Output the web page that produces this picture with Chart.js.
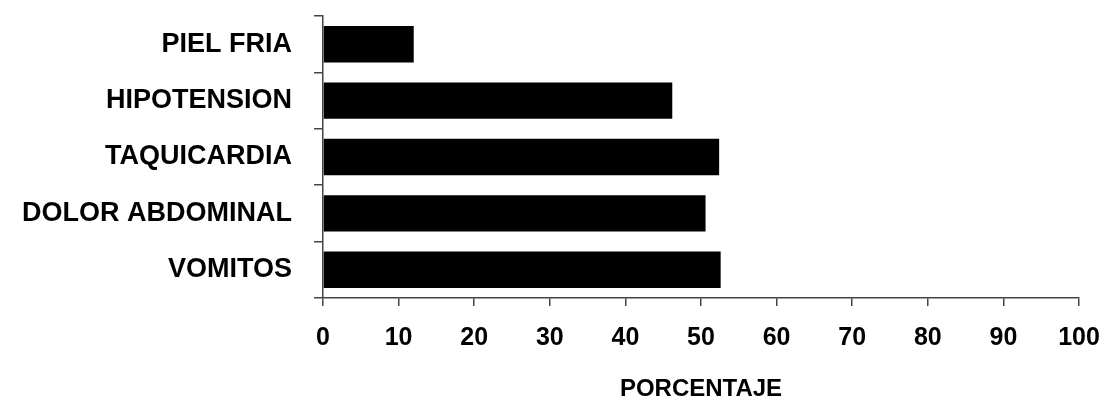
<!DOCTYPE html>
<html>
<head>
<meta charset="utf-8">
<script src="https://cdn.jsdelivr.net/npm/chart.js@4/dist/chart.umd.min.js"></script>
<style>
  html, body { margin: 0; padding: 0; background: #ffffff; }
  #chart { display: block; }
</style>
</head>
<body>
<canvas id="chart" width="1106" height="399"></canvas>
<script>
// Síntomas y porcentaje de pacientes que los presentan
const categories = ['PIEL FRIA', 'HIPOTENSION', 'TAQUICARDIA', 'DOLOR ABDOMINAL', 'VOMITOS'];
const porcentajes = [12.0, 46.2, 52.4, 50.6, 52.6];
const xTicks = [0, 10, 20, 30, 40, 50, 60, 70, 80, 90, 100];
const xTitle = 'PORCENTAJE';

const FONT = "'Liberation Sans', Arial, sans-serif";

// fixed axis box sizes; labels may overhang into the outer padding
const Y_AXIS_WIDTH = 307;
const X_AXIS_HEIGHT = 101;

const clearLabelPadding = (scale) => {
  scale.paddingTop = 0;
  scale.paddingBottom = 0;
  scale.paddingLeft = 0;
  scale.paddingRight = 0;
};

new Chart(document.getElementById('chart'), {
  type: 'bar',
  data: {
    labels: categories,
    datasets: [{
      data: porcentajes,
      backgroundColor: '#000000',
      borderWidth: 0,
      barPercentage: 0.645,
      categoryPercentage: 1.0
    }]
  },
  options: {
    indexAxis: 'y',
    responsive: false,
    devicePixelRatio: 1,
    animation: false,
    layout: { padding: { top: 16, right: 27, bottom: 0, left: 16 } },
    plugins: {
      legend: { display: false },
      tooltip: { enabled: false }
    },
    scales: {
      x: {
        type: 'linear',
        min: xTicks[0],
        max: xTicks[xTicks.length - 1],
        afterBuildTicks: (axis) => { axis.ticks = xTicks.map(v => ({ value: v })); },
        afterFit: (scale) => { clearLabelPadding(scale); scale.height = X_AXIS_HEIGHT; },
        border: { display: true, color: '#444444', width: 1.5 },
        grid: {
          drawOnChartArea: false,
          drawTicks: true,
          tickLength: 8,
          color: '#444444',
          lineWidth: 1.5
        },
        ticks: {
          color: '#000000',
          padding: 17,
          maxRotation: 0,
          font: { family: FONT, size: 25, weight: 'bold' }
        },
        title: {
          display: true,
          text: xTitle,
          color: '#000000',
          padding: { top: 0, bottom: -5 },
          font: { family: FONT, size: 24, weight: 'bold' }
        }
      },
      y: {
        type: 'category',
        offset: true,
        afterFit: (scale) => { clearLabelPadding(scale); scale.width = Y_AXIS_WIDTH; },
        border: { display: true, color: '#444444', width: 1.5 },
        grid: {
          offset: true,
          drawOnChartArea: false,
          drawTicks: true,
          tickLength: 9,
          color: '#444444',
          lineWidth: 1.5
        },
        ticks: {
          color: '#000000',
          padding: 22,
          font: { family: FONT, size: 27, weight: 'bold' }
        }
      }
    }
  }
});
</script>
</body>
</html>
